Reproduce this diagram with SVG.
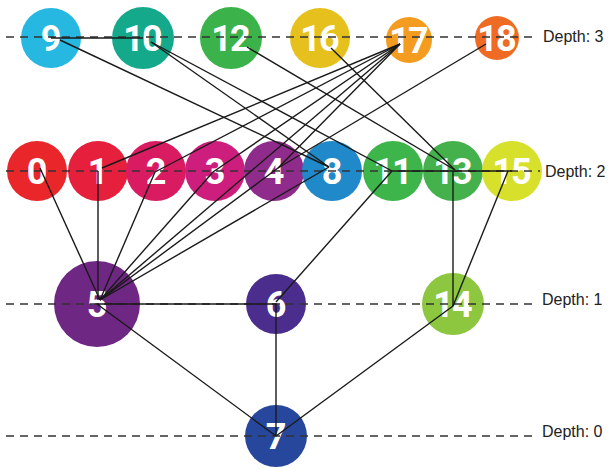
<svg xmlns="http://www.w3.org/2000/svg" width="612" height="470" viewBox="0 0 612 470">
<style>
.num{font-family:Roboto,"Liberation Sans",sans-serif;font-weight:700;font-size:36px;fill:#fff;text-anchor:middle;letter-spacing:-2px}
.guide{stroke:#333;stroke-width:1.3;stroke-dasharray:8 6;fill:none}
.lbl{font-family:"Liberation Sans",Arial,sans-serif;font-size:16px;fill:#222}
.edge{stroke:#1a1a1a;stroke-width:1.4;fill:none}
</style>
<rect width="612" height="470" fill="#fff"/>
<g id="nodes">
<g id="n9"><circle cx="51" cy="38" r="30" fill="#27b8e2"/><text class="num" x="50" y="51">9</text></g>
<g id="n10"><circle cx="143" cy="38" r="31" fill="#15a98c"/><text class="num" x="142" y="51">10</text></g>
<g id="n12"><circle cx="231" cy="38" r="31" fill="#3bb24a"/><text class="num" x="230" y="51">12</text></g>
<g id="n16"><circle cx="320" cy="38" r="30" fill="#e6c11e"/><text class="num" x="319" y="51">16</text></g>
<g id="n17"><circle cx="409" cy="40" r="23" fill="#f49c1f"/><text class="num" x="408" y="53">17</text></g>
<g id="n18"><circle cx="497" cy="38" r="22" fill="#ef6b24"/><text class="num" x="496" y="51">18</text></g>
<g id="n0"><circle cx="37" cy="171" r="30" fill="#e9272b"/><text class="num" x="36" y="184">0</text></g>
<g id="n1"><circle cx="98" cy="171" r="30" fill="#e61f3c"/><text class="num" x="97" y="184">1</text></g>
<g id="n2"><circle cx="156" cy="171" r="30" fill="#d91c62"/><text class="num" x="155" y="184">2</text></g>
<g id="n3"><circle cx="215" cy="171" r="30" fill="#cd1e7d"/><text class="num" x="214" y="184">3</text></g>
<g id="n4"><circle cx="274" cy="171" r="30" fill="#8f2b8b"/><text class="num" x="273" y="184">4</text></g>
<g id="n8"><circle cx="332" cy="171" r="30" fill="#1f89c9"/><text class="num" x="331" y="184">8</text></g>
<g id="n11"><circle cx="393" cy="171" r="30" fill="#3db54b"/><text class="num" x="392" y="184">11</text></g>
<g id="n13"><circle cx="453" cy="171" r="30" fill="#44b14c"/><text class="num" x="452" y="184">13</text></g>
<g id="n15"><circle cx="512" cy="171" r="30" fill="#d7e12b"/><text class="num" x="511" y="184">15</text></g>
<g id="n5"><circle cx="97" cy="304" r="43" fill="#6e2782"/><text class="num" x="96" y="317">5</text></g>
<g id="n6"><circle cx="276" cy="304" r="30" fill="#4a2d8c"/><text class="num" x="275" y="317">6</text></g>
<g id="n14"><circle cx="453" cy="304" r="31" fill="#8dc63f"/><text class="num" x="452" y="317">14</text></g>
<g id="n7"><circle cx="276" cy="436" r="31" fill="#27479c"/><text class="num" x="275" y="449">7</text></g>
</g>
<g id="depths">
<line class="guide" x1="6" y1="37" x2="534" y2="37"/>
<text class="lbl" x="543" y="42">Depth: 3</text>
<line class="guide" x1="6" y1="171" x2="540" y2="171"/>
<text class="lbl" x="545" y="177">Depth: 2</text>
<line class="guide" x1="6" y1="304" x2="535" y2="304"/>
<text class="lbl" x="542" y="305">Depth: 1</text>
<line class="guide" x1="6" y1="436" x2="535" y2="436"/>
<text class="lbl" x="542" y="437">Depth: 0</text>
</g>
<g id="connectors">
<line class="edge" x1="51" y1="38" x2="143" y2="38"/>
<line class="edge" x1="60" y1="40" x2="329" y2="167"/>
<line class="edge" x1="151" y1="42" x2="329" y2="167"/>
<line class="edge" x1="151" y1="42" x2="392" y2="171"/>
<line class="edge" x1="247" y1="47" x2="455" y2="170"/>
<line class="edge" x1="331" y1="48" x2="455" y2="170"/>
<line class="edge" x1="400" y1="44" x2="102" y2="168"/>
<line class="edge" x1="400" y1="44" x2="155" y2="172"/>
<line class="edge" x1="400" y1="44" x2="213" y2="172"/>
<line class="edge" x1="400" y1="44" x2="278" y2="168"/>
<line class="edge" x1="400" y1="44" x2="100" y2="300"/>
<line class="edge" x1="486" y1="44" x2="278" y2="168"/>
<line class="edge" x1="40" y1="168" x2="100" y2="300"/>
<line class="edge" x1="98" y1="171" x2="98" y2="300"/>
<line class="edge" x1="155" y1="172" x2="100" y2="300"/>
<line class="edge" x1="213" y1="172" x2="100" y2="300"/>
<line class="edge" x1="278" y1="168" x2="100" y2="300"/>
<line class="edge" x1="329" y1="167" x2="100" y2="300"/>
<line class="edge" x1="392" y1="171" x2="512" y2="171"/>
<line class="edge" x1="392" y1="171" x2="276" y2="302"/>
<line class="edge" x1="453" y1="171" x2="453" y2="306"/>
<line class="edge" x1="508" y1="171" x2="453" y2="306"/>
<line class="edge" x1="97" y1="304" x2="276" y2="304"/>
<line class="edge" x1="97" y1="304" x2="276" y2="436"/>
<line class="edge" x1="276" y1="304" x2="276" y2="436"/>
<line class="edge" x1="453" y1="306" x2="276" y2="436"/>
</g>
</svg>
